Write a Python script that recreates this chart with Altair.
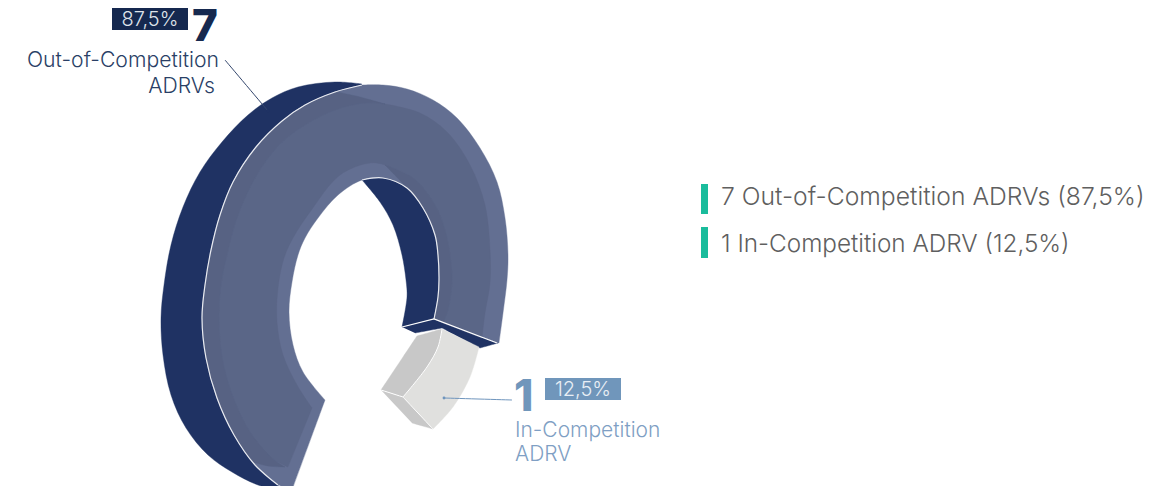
import altair as alt
import pandas as pd

# Outlines, as (horizontal, vertical) page readings, one list per curve
outer_white = [(362,85),(335,92),(305,105),(282,121),(256,147),(233,182),(220,215),(211,250),(205,285),(202,318),(206,358),(217,398),(234,435),(255,465),(278,485)]
back_rim = [(362,84),(335,82),(298,87),(272,98),(248,115),(222,142),(200,172),(183,207),(171,245),(164,285),(161,318),(163,355),(171,395),(186,428),(208,455),(232,472),(258,485),(280,490)]
hole_white = [(362,180),(383,178),(407,188),(423,208),(435,235),(438,255),(439,280),(438,297),(434,319)]
hole_back_edge = [(402,327),(407,297),(406,280),(402,255),(393,225),(380,202),(362,180)]
hole_front = [(325,400),(303,372),(293,345),(289,312),(292,282),(298,255),(305,238),(318,218),(338,195),(362,180),(383,178),(407,188),(423,208),(435,235),(438,255),(439,280),(438,297),(434,319)]
outer_right = [(499,343),(503,313),(507,280),(508,255),(505,218),(497,182),(480,148),(457,118),(433,100),(407,89),(383,85),(362,85)]
tip_edge = [(292,490),(325,400)]
cut_edge = [(434,319),(499,343)]
cut_under = [(402,327),(434,319),(498,343),(480,348),(442,328),(415,333)]

face_right = [(385,104),(420,113),(447,132),(470,165),(485,205),(490,250),(490,283),(485,313),(482,338)]
face_cut = [(482,338),(443,323)]
face_hole = [(443,323),(448,310),(452,280),(450,255),(445,230),(435,205),(413,178),(385,165),(370,163),(340,175),(310,212),(293,238),(284,258),(278,288),(277,322),(283,355),(297,385),(312,408)]
face_tip = [(312,408),(288,467)]
face_left = [(288,467),(272,458),(252,435),(235,402),(223,362),(219,322),(221,285),(227,255),(237,218),(255,178),(280,144),(305,125),(335,110),(365,103),(385,104)]

strip_top = [(337,92),(360,97),(385,104)]
strip_inner = [(385,104),(365,103),(335,110),(305,125),(280,144),(255,178),(237,218),(227,255),(221,285),(219,322),(223,362),(235,402),(252,435),(272,458),(285,467)]
strip_low = [(285,467),(268,466),(252,462)]
strip_outer = [(252,462),(234,435),(217,398),(206,358),(202,318),(205,285),(211,250),(220,215),(233,182),(256,147),(282,121),(305,105),(337,92)]
strip_hole_a = [(385,165),(413,178),(435,205),(445,230),(450,255),(452,280),(448,310),(443,323)]
strip_hole_b = [(443,323),(434,319)]
strip_hole_c = [(434,319),(438,297),(439,280),(438,255),(435,235),(423,208),(407,188),(385,165)]

grey_top_a = [(442,329),(479,347)]
grey_top_b = [(479,347),(470,377),(453,407),(433,429)]
grey_top_c = [(433,429),(403,397)]
grey_seam = [(403,397),(427,367),(438,347),(442,329)]
grey_side_a = [(442,329),(417,336)]
grey_side_b = [(417,336),(403,357),(381,390)]
grey_side_c = [(381,390),(403,397)]
grey_bottom = [(381,390),(403,397),(433,429),(412,423)]

white_cut = [(402,327),(434,319),(497,343)]
grey_line_b = [(381,390),(403,397),(433,429)]

leader_out = [(225,60),(268,111)]
leader_in = [(444,398),(512,400)]

NAVY = "#1f3263"
X = alt.Scale(domain=[8, 1168], range=[0, 1160])
Y = alt.Scale(domain=[8, 486], range=[0, 478])


def frame(points):
    return pd.DataFrame({"x": [p[0] for p in points], "y": [p[1] for p in points], "i": range(len(points))})


def enc(chart):
    return chart.encode(
        x=alt.X("x:Q", scale=X, axis=None),
        y=alt.Y("y:Q", scale=Y, axis=None),
        order=alt.Order("i:Q"),
    )


def joined(*runs):
    # each run is repeated at its ends so that the curve keeps a sharp corner there
    pts = []
    for r in runs:
        pts += [r[0]] + list(r) + [r[-1]]
    return pts


def edges(points):
    return [points[k:k + 2] for k in range(len(points) - 1)]


def poly(fill, *runs):
    return enc(alt.Chart(frame(joined(*runs))).mark_line(
        fill=fill, stroke=fill, strokeWidth=0.4, clip=True, interpolate="catmull-rom"))


def line(color, width, *runs):
    return enc(alt.Chart(frame(joined(*runs))).mark_line(
        stroke=color, strokeWidth=width, clip=True, interpolate="catmull-rom"))


def label(x, y, text, size, color, align="left", weight=400):
    d = pd.DataFrame({"x": [x], "y": [y], "t": [text]})
    return alt.Chart(d).mark_text(
        font="Inter", fontSize=size, fontWeight=weight, color=color, align=align, baseline="alphabetic"
    ).encode(x=alt.X("x:Q", scale=X, axis=None), y=alt.Y("y:Q", scale=Y, axis=None), text="t:N")


def box(x0, x1, y0, y1, color):
    d = pd.DataFrame({"x": [x0], "x2": [x1], "y": [y0], "y2": [y1]})
    return alt.Chart(d).mark_rect(color=color).encode(
        x=alt.X("x:Q", scale=X, axis=None), x2="x2:Q",
        y=alt.Y("y:Q", scale=Y, axis=None), y2="y2:Q")


def dot(x, y, color):
    d = pd.DataFrame({"x": [x], "y": [y]})
    return alt.Chart(d).mark_point(filled=True, size=8, color=color, opacity=1).encode(
        x=alt.X("x:Q", scale=X, axis=None), y=alt.Y("y:Q", scale=Y, axis=None))


layers = [
    poly(NAVY, back_rim, outer_white[::-1]),
    poly(NAVY, hole_white, hole_back_edge),
    poly(NAVY, *edges(cut_under)),
    poly("#636f92", tip_edge, hole_front, cut_edge, outer_right, outer_white),
    poly("#5a6687", face_right, face_cut, face_hole, face_tip, face_left),
    poly("#576283", strip_top, strip_inner, strip_low, strip_outer),
    poly("#576283", strip_hole_a, strip_hole_b, strip_hole_c),
    poly("#e0e0de", grey_top_a, grey_top_b, grey_top_c, grey_seam),
    poly("#c8c8c8", grey_side_a, grey_side_b, grey_side_c, grey_seam),
    poly("#c8c8c8", *edges(grey_bottom)),
    line("#e8eaf0", 1.2, outer_white),
    line("#e8eaf0", 1.2, hole_white),
    line("#ffffff", 1.2, *edges(white_cut)),
    line("#ffffff", 1, grey_seam),
    line("#ffffff", 1, *edges(grey_line_b)),
    line("#33466c", 1, leader_out),
    dot(268, 111, "#1f3263"),
    line("#6f95bd", 1, leader_in),
    dot(444, 398, "#6f95bd"),
    box(112, 188, 8, 30, "#15284f"),
    label(150, 26, "87,5%", 20, "#dfe3ea", "center", 300),
    label(192, 41, "7", 44, "#16294f", "left", 800),
    label(219, 67, "Out-of-Competition", 21.2, "#2a3f66", "right", 300),
    label(215, 93, "ADRVs", 21.2, "#2a3f66", "right", 300),
    box(545, 621, 378, 400, "#7096bb"),
    label(583, 396, "12,5%", 20, "#e8eef5", "center", 300),
    label(514, 411, "1", 44, "#7096bb", "left", 800),
    label(515, 437, "In-Competition", 21, "#7f9fc4", "left", 300),
    label(515, 461, "ADRV", 21, "#7f9fc4", "left", 300),
    box(701, 708, 184, 214, "#1abc9c"),
    box(701, 708, 227, 258, "#1abc9c"),
    label(721, 205, "7 Out-of-Competition ADRVs (87,5%)", 24.7, "#5f5f5f", "left", 300),
    label(721, 252, "1 In-Competition ADRV (12,5%)", 24.3, "#5f5f5f", "left", 300),
]

chart = alt.layer(*layers).properties(
    width=1160, height=478, padding=0,
    autosize=alt.AutoSizeParams(type="none"), background="white",
).configure_view(stroke=None)

chart.save("out.html", embed_options={"renderer": "svg", "actions": False})
